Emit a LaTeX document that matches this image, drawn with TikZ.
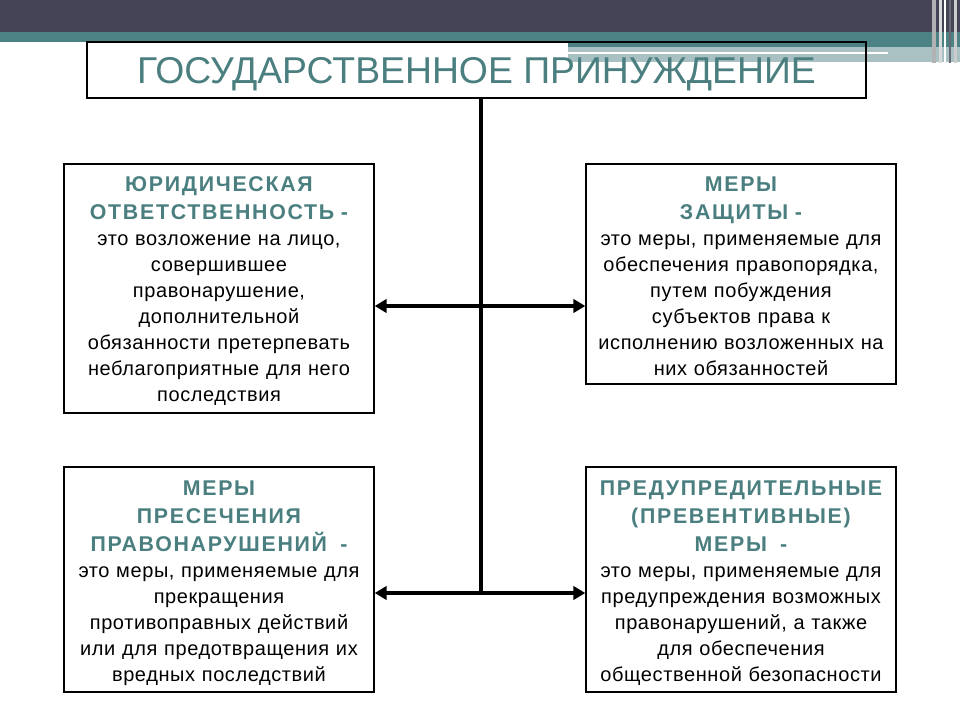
\documentclass[tikz,border=0pt]{standalone}
\usepackage{fontspec}
\setmainfont{Liberation Sans}
\usetikzlibrary{arrows.meta}

\definecolor{bardark}{HTML}{444456}
\definecolor{barteal}{HTML}{4B8385}
\definecolor{barlight}{HTML}{A9C1C3}
\definecolor{headteal}{HTML}{4A7E7F}

\newcommand{\head}[1]{\rule{0pt}{15.5pt}{\bfseries\fontsize{16}{19.5}\selectfont
    \addfontfeatures{LetterSpace=8}\color{headteal}#1}}

\begin{document}
\begin{tikzpicture}[x = 0.75pt , y = -0.75pt ,
    box/.style = {draw , line width = 1.5pt , anchor = north , align = center ,
        text width = 222pt , inner xsep = 5pt , inner ysep = 5.5pt ,
        font = \fontsize{15}{19.5}\selectfont\addfontfeatures{LetterSpace=3}} ,
    spine/.style = {line width = 3pt} ,
    link/.style = {line width = 3pt , {Triangle[length = 9pt , width = 10pt]}-{Triangle[length = 9pt , width = 10pt]}}]
    \useasboundingbox (0,0) rectangle (960,720);
    % шапка слайда
    \fill[bardark] (0,0) rectangle (960,32);
    \fill[barteal] (0,32) rectangle (960,42);
    \fill[barteal] (568,42) rectangle (960,47);
    \fill[barlight] (568,47) rectangle (960,62);
    \fill[white] (568,52) rectangle (888,54);
    \fill[gray!60] (932,0) rectangle (936,63);
    \fill[gray!30] (939,0) rectangle (942,63);
    \fill[white] (944,0) rectangle (946,63);
    \fill[bardark!80] (949,0) rectangle (951,63);
    \fill[gray!40] (954,0) rectangle (957,63);

    \node[draw , line width = 1.5pt , minimum width = 584pt , minimum height = 42pt ,
        text height = 20pt , text depth = 0pt , text = headteal ,
        font = \fontsize{28}{30}\selectfont] (title) at (476.5,70) {ГОСУДАРСТВЕННОЕ ПРИНУЖДЕНИЕ};

    \node[box] (otv) at (219,163) {\head{ЮРИДИЧЕСКАЯ\\[1.5pt] ОТВЕТСТВЕННОСТЬ -}\\
        это возложение на лицо,\\ совершившее\\ правонарушение,\\ дополнительной\\
        обязанности претерпевать\\ неблагоприятные для него\\ последствия};
    \node[box] (zasch) at (741,163) {\head{МЕРЫ\\[1.5pt] ЗАЩИТЫ -}\\
        это меры, применяемые для\\ обеспечения правопорядка,\\ путем побуждения\\
        субъектов права к\\ исполнению возложенных на\\ них обязанностей};
    \node[box] (pres) at (219,466) {\head{МЕРЫ\\[1.5pt] ПРЕСЕЧЕНИЯ\\[1.5pt] ПРАВОНАРУШЕНИЙ~ -}\\
        это меры, применяемые для\\ прекращения\\ противоправных действий\\
        или для предотвращения их\\ вредных последствий};
    \node[box] (preduc) at (741,466) {\head{ПРЕДУПРЕДИТЕЛЬНЫЕ\\[1.5pt] (ПРЕВЕНТИВНЫЕ)\\[1.5pt] МЕРЫ~ -}\\
        это меры, применяемые для\\ предупреждения возможных\\ правонарушений, а также\\
        для обеспечения\\ общественной безопасности};

    \coordinate (jup) at (481,306); % верхняя развилка
    \coordinate (jlow) at (481,593); % нижняя развилка
    \draw[spine] (title.south -| jlow) -- (jlow);
    \draw[link] (otv.east |- jup) -- (zasch.west |- jup);
    \draw[link] (pres.east |- jlow) -- (preduc.west |- jlow);
\end{tikzpicture}
\end{document}
